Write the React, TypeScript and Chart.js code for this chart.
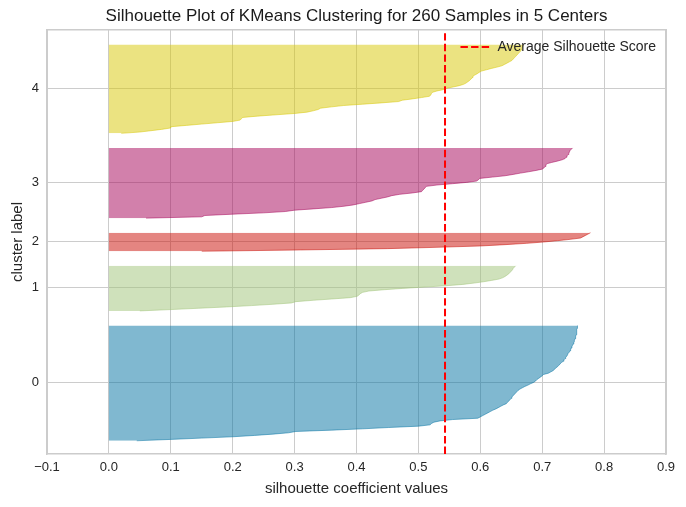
import React, { useEffect, useRef } from 'react';
import { Chart, registerables } from 'chart.js';

Chart.register(...registerables);

const TITLE = 'Silhouette Plot of KMeans Clustering for 260 Samples in 5 Centers';
const X_TITLE = 'silhouette coefficient values';
const Y_TITLE = 'cluster label';
const LEGEND_LABEL = 'Average Silhouette Score';

const CLUSTER_LABELS = ['0', '1', '2', '3', '4'];
const CLUSTER_COLORS = ['#0272a2', '#9fc377', '#ca0b03', '#a50258', '#d7c703'];

// sorted silhouette coefficients of each cluster (bottom to top)
const CLUSTER_0 = [
  0.045, 0.099, 0.15, 0.2, 0.235, 0.265, 0.29, 0.302, 0.36, 0.41,
  0.452, 0.5, 0.519, 0.521, 0.525, 0.535, 0.555, 0.596, 0.6, 0.604,
  0.608, 0.612, 0.616, 0.62, 0.625, 0.629, 0.633, 0.637, 0.642, 0.644,
  0.646, 0.648, 0.65, 0.651, 0.653, 0.655, 0.657, 0.659, 0.661, 0.664,
  0.668, 0.672, 0.677, 0.681, 0.686, 0.689, 0.691, 0.694, 0.697, 0.7,
  0.702, 0.71, 0.714, 0.718, 0.72, 0.722, 0.725, 0.727, 0.729, 0.731,
  0.734, 0.735, 0.737, 0.738, 0.74, 0.741, 0.742, 0.744, 0.745, 0.746,
  0.747, 0.748, 0.749, 0.75, 0.751, 0.752, 0.752, 0.753, 0.754, 0.754,
  0.755, 0.755, 0.756, 0.756, 0.756, 0.757, 0.757, 0.757,
];
const CLUSTER_1 = [
  0.05, 0.1, 0.145, 0.19, 0.23, 0.265, 0.295, 0.302, 0.33, 0.36,
  0.39, 0.401, 0.404, 0.406, 0.41, 0.42, 0.445, 0.475, 0.51, 0.545,
  0.572, 0.59, 0.605, 0.618, 0.63, 0.636, 0.64, 0.643, 0.646, 0.648,
  0.65, 0.652, 0.653, 0.655, 0.657,
];
const CLUSTER_2 = [
  0.15, 0.31, 0.45, 0.53, 0.6, 0.64, 0.675, 0.702, 0.725, 0.745,
  0.762, 0.766, 0.77, 0.774, 0.778,
];
const CLUSTER_3 = [
  0.06, 0.15, 0.155, 0.2, 0.25, 0.285, 0.3, 0.33, 0.36, 0.38,
  0.395, 0.405, 0.415, 0.425, 0.43, 0.44, 0.45, 0.457, 0.47, 0.49,
  0.505, 0.507, 0.509, 0.511, 0.513, 0.53, 0.555, 0.578, 0.594, 0.597,
  0.599, 0.62, 0.64, 0.653, 0.665, 0.678, 0.69, 0.7, 0.703, 0.705,
  0.706, 0.707, 0.715, 0.724, 0.732, 0.737, 0.739, 0.74, 0.742, 0.743,
  0.744, 0.745, 0.747, 0.749,
];
const CLUSTER_4 = [
  0.02, 0.05, 0.068, 0.085, 0.099, 0.1, 0.125, 0.15, 0.175, 0.2,
  0.212, 0.214, 0.216, 0.24, 0.27, 0.3, 0.32, 0.33, 0.338, 0.342,
  0.36, 0.379, 0.41, 0.44, 0.468, 0.474, 0.49, 0.505, 0.518, 0.52,
  0.521, 0.523, 0.53, 0.54, 0.546, 0.556, 0.566, 0.573, 0.577, 0.58,
  0.583, 0.585, 0.587, 0.588, 0.591, 0.595, 0.598, 0.602, 0.61, 0.618,
  0.627, 0.635, 0.639, 0.643, 0.647, 0.651, 0.653, 0.655, 0.657, 0.659,
  0.661, 0.663, 0.665, 0.666, 0.667, 0.668, 0.669, 0.669,
];
const CLUSTERS = [CLUSTER_0, CLUSTER_1, CLUSTER_2, CLUSTER_3, CLUSTER_4];

const AVG_SCORE = 0.543;
const AVG_COLOR = '#ff0000';
const AVG_DASH = [7.4, 3.2];
const AVG_WIDTH = 2;
const X_TICKS = [-0.1, 0.0, 0.1, 0.2, 0.3, 0.4, 0.5, 0.6, 0.7, 0.8, 0.9];
const GAP = 10;

const FONT = "'Liberation Sans', Arial, sans-serif";
const TEXT = '#262626';
const GRID = '#cccccc';

function rgba(hex: string, a: number) {
  const n = parseInt(hex.slice(1), 16);
  return `rgba(${(n >> 16) & 255},${(n >> 8) & 255},${n & 255},${a})`;
}

// place the (chartArea) legend in the upper right corner of the plot, above the data
const legendCorner = {
  id: 'legendCorner',
  beforeLayout(chart: any) {
    const l = chart.legend;
    if (!l) return;
    l._layers = () => [{ z: 10, draw: (ca: any) => l.draw(ca) }];
  },
  afterLayout(chart: any) {
    const l = chart.legend;
    if (!l) return;
    const ca = chart.chartArea;
    const w = l.width;
    const h = l.height;
    l.right = ca.right;
    l.left = ca.right - w;
    l.top = ca.top;
    l.bottom = ca.top + h;
  },
};

export default function App() {
  const ref = useRef<HTMLCanvasElement | null>(null);

  useEffect(() => {
    if (!ref.current) return;
    let yLower = GAP;
    const centers: number[] = [];
    const datasets: any[] = CLUSTERS.map((vals, i) => {
      const pts = vals.map((v, k) => ({ x: v, y: yLower + k }));
      centers.push(yLower + 0.5 * vals.length);
      yLower += vals.length + GAP;
      return {
        label: 'cluster ' + CLUSTER_LABELS[i],
        data: pts,
        backgroundColor: rgba(CLUSTER_COLORS[i], 0.5),
        borderColor: rgba(CLUSTER_COLORS[i], 0.5),
        borderWidth: 1,
        pointRadius: 0,
        pointHitRadius: 0,
        tension: 0,
        fill: 'origin',
        order: 1,
      };
    });
    const total = CLUSTERS.reduce((s, c) => s + c.length, 0);
    const yMax = total + (CLUSTERS.length + 1) * GAP;

    datasets.push({
      label: LEGEND_LABEL,
      data: [
        { x: AVG_SCORE, y: 0 },
        { x: AVG_SCORE, y: yMax },
      ],
      borderColor: AVG_COLOR,
      backgroundColor: AVG_COLOR,
      borderWidth: AVG_WIDTH,
      borderDash: AVG_DASH,
      pointRadius: 0,
      fill: false,
      order: 0,
    });
    const avgIndex = datasets.length - 1;

    const chart = new Chart(ref.current, {
      type: 'line',
      data: { datasets },
      plugins: [legendCorner],
      options: {
        indexAxis: 'y',
        animation: false,
        responsive: false,
        events: [],
        layout: { padding: { left: 0, right: 20, top: 0, bottom: 0 } },
        plugins: {
          title: {
            display: true,
            fullSize: false,
            text: TITLE,
            color: '#1a1a1a',
            font: { family: FONT, size: 17, weight: 'normal' },
            padding: { top: 5.8, bottom: 3.8 },
          },
          legend: {
            position: 'chartArea',
            align: 'start',
            labels: {
              usePointStyle: true,
              pointStyle: 'line',
              pointStyleWidth: 30,
              color: TEXT,
              font: { family: FONT, size: 14 },
              generateLabels: () => [
                {
                  text: LEGEND_LABEL,
                  fillStyle: AVG_COLOR,
                  strokeStyle: AVG_COLOR,
                  lineWidth: AVG_WIDTH,
                  lineDash: AVG_DASH,
                  lineCap: 'butt',
                  pointStyle: 'line',
                  hidden: false,
                  datasetIndex: avgIndex,
                  fontColor: TEXT,
                },
              ],
            },
          },
          tooltip: { enabled: false },
        },
        scales: {
          x: {
            type: 'linear',
            position: 'bottom',
            min: X_TICKS[0],
            max: X_TICKS[X_TICKS.length - 1],
            afterBuildTicks: (s: any) => {
              s.ticks = X_TICKS.map((v) => ({ value: v }));
            },
            afterFit: (s: any) => {
              s.height = 53;
            },
            ticks: {
              color: TEXT,
              font: { family: FONT, size: 13 },
              padding: 6,
              maxRotation: 0,
              autoSkip: false,
              callback: (v: any) => {
                const t = Number(v).toFixed(1);
                return t.startsWith('-') ? '\u2212' + t.slice(1) : t;
              },
            },
            grid: { color: GRID, lineWidth: 1, drawTicks: false },
            border: { color: GRID, width: 1.5 },
            title: {
              display: true,
              text: X_TITLE,
              color: TEXT,
              font: { family: FONT, size: 15 },
              padding: { top: 0, bottom: 9 },
            },
          },
          xTop: {
            type: 'linear',
            position: 'top',
            min: X_TICKS[0],
            max: X_TICKS[X_TICKS.length - 1],
            ticks: { display: false },
            grid: { display: false, drawTicks: false },
            border: { color: GRID, width: 1.5 },
            afterFit: (s: any) => {
              s.height = 0;
            },
          },
          y: {
            type: 'linear',
            position: 'left',
            min: 0,
            max: yMax,
            afterBuildTicks: (s: any) => {
              s.ticks = centers.map((v) => ({ value: v }));
            },
            afterFit: (s: any) => {
              s.width = 47;
            },
            ticks: {
              color: TEXT,
              font: { family: FONT, size: 13 },
              padding: 8,
              autoSkip: false,
              callback: (_v: any, i: number) => CLUSTER_LABELS[i],
            },
            grid: { color: GRID, lineWidth: 1, drawTicks: false },
            border: { color: GRID, width: 1.5 },
            title: {
              display: true,
              text: Y_TITLE,
              color: TEXT,
              font: { family: FONT, size: 15 },
              padding: { top: 9, bottom: 0 },
            },
          },
          yRight: {
            type: 'linear',
            position: 'right',
            min: 0,
            max: yMax,
            ticks: { display: false },
            grid: { display: false, drawTicks: false },
            border: { color: GRID, width: 1.5 },
            afterFit: (s: any) => {
              s.width = 0;
            },
          },
        },
      } as any,
    });
    return () => chart.destroy();
  }, []);

  return (
    <div style={{ position: 'fixed', left: 0, top: 0, width: 686, height: 507, background: '#fff' }}>
      <canvas ref={ref} width={686} height={507} style={{ display: 'block' }} />
    </div>
  );
}
